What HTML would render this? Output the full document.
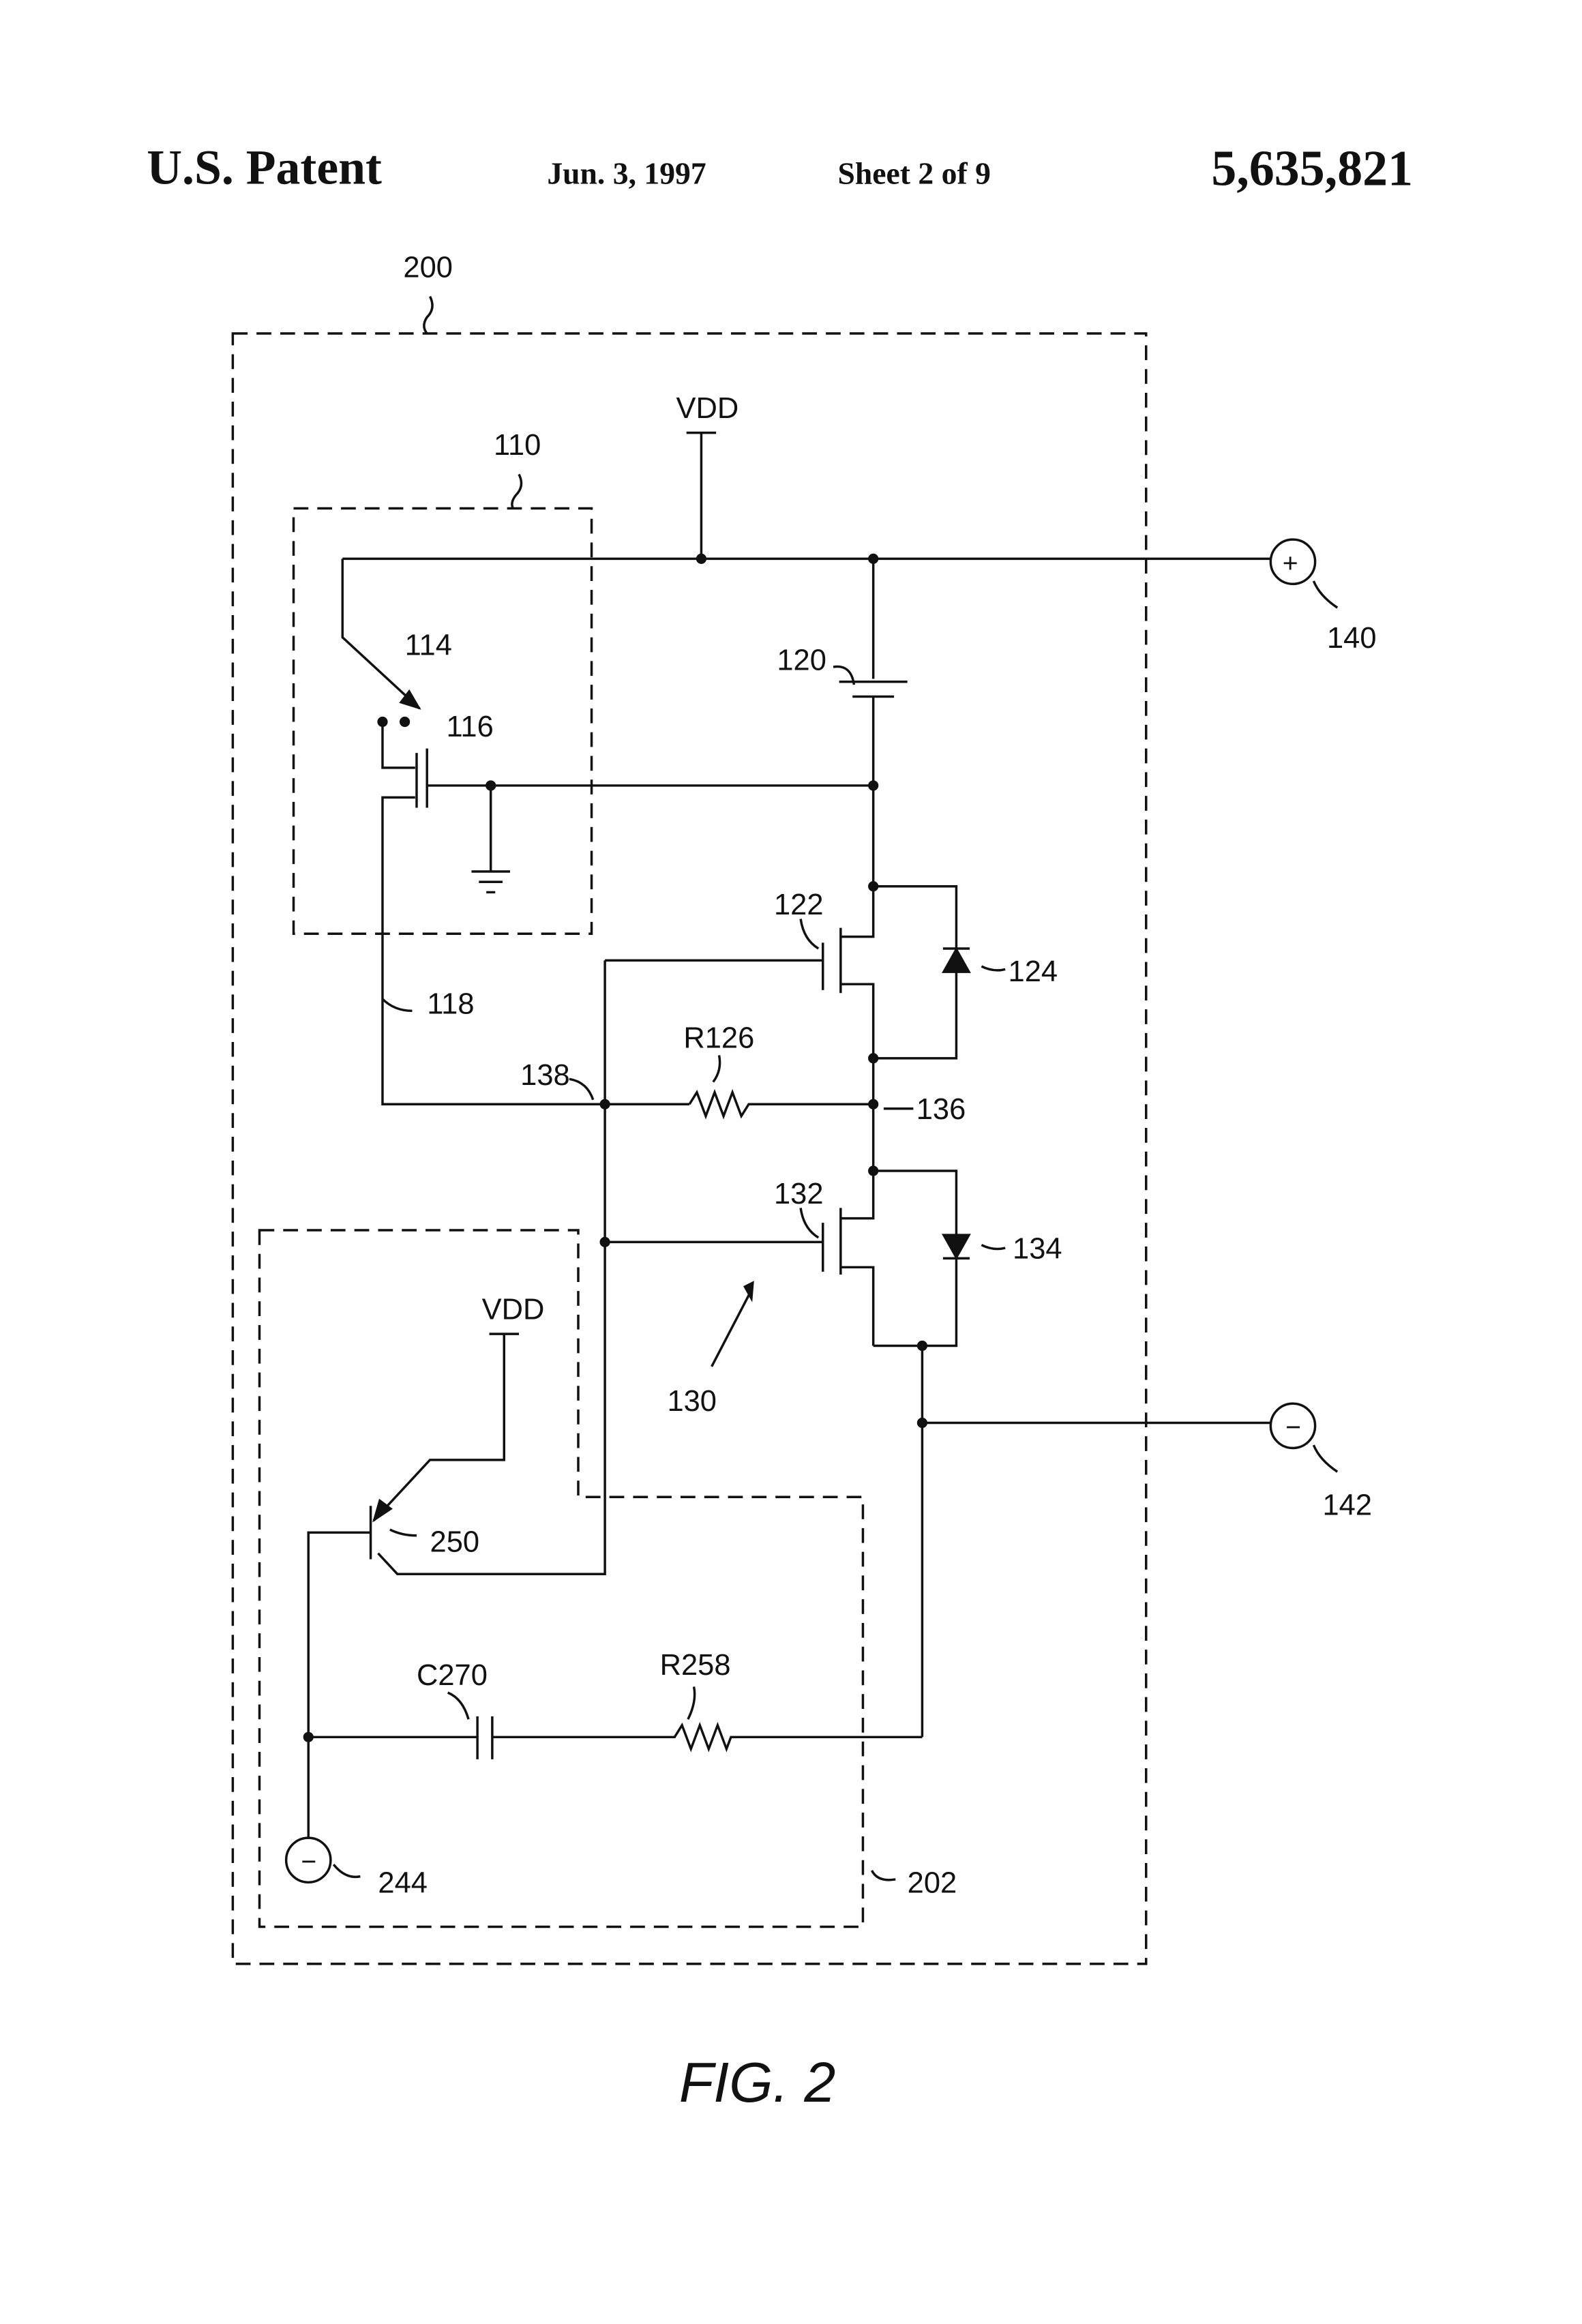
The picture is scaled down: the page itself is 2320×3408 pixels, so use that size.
<!DOCTYPE html>
<html><head><meta charset="utf-8"><style>
html,body{margin:0;padding:0;background:#fff;}
svg{display:block;}
.l{font-family:"Liberation Sans",sans-serif;font-size:20px;fill:#111;}
</style></head><body>
<svg width="2320" height="3408" viewBox="0 0 1067 1568" preserveAspectRatio="none" xmlns="http://www.w3.org/2000/svg">
<rect width="1080" height="1600" fill="#fff"/>
<g font-family="Liberation Serif,serif" font-weight="bold" fill="#111">
<text x="99" y="124" font-size="33">U.S. Patent</text>
<text x="369" y="124" font-size="21">Jun. 3, 1997</text>
<text x="565" y="124" font-size="21">Sheet 2 of 9</text>
<text x="817" y="125" font-size="34">5,635,821</text>
</g>
<g fill="none" stroke="#111" stroke-width="1.6">
<g stroke-dasharray="10,6">
<rect x="157" y="225" width="616" height="1100"/>
<rect x="198" y="343" width="201" height="287"/>
<path d="M175 830 H390 V1010 H582 V1300 H175 Z"/>
</g>
<path d="M290 200 q4 8 -2 14 q-4 6 0 11"/>
<path d="M350 320 q4 8 -2 14 q-4 5 -2 9"/>
<path d="M562 450 q12 -2 14 12"/>
<path d="M278 682 q-12 0 -20 -8"/>
<path d="M384 728 q12 2 16 14"/>
<path d="M485 712 q2 10 -4 18"/>
<path d="M540 620 q2 14 12 20"/>
<path d="M540 815 q2 14 12 20"/>
<path d="M662 652 q8 4 16 2"/>
<path d="M662 840 q8 4 16 2"/>
<path d="M596 748 h20"/>
<path d="M886 392 q4 10 16 18"/>
<path d="M886 975 q4 10 16 18"/>
<path d="M225 1258 q8 10 18 8"/>
<path d="M588 1262 q4 8 16 6"/>
<path d="M263 1032 q8 4 18 4"/>
<path d="M302 1142 q10 4 14 18"/>
<path d="M468 1138 q2 10 -4 22"/>
<path d="M231 377 H857"/>
<path d="M473 292 V377 M463 292 H483"/>
<path d="M231 377 V430 L283 478"/>
<path d="M258 487 V518 H280"/>
<path d="M281 508 V545 M288 505 V545"/>
<path d="M288 530 H589"/>
<path d="M280 538 H258 V745 H465"/>
<path d="M331 530 V588 M318 588 H344 M323 595 H339 M328 602 H334"/>
<path d="M589 377 V458 M566 460 H612 M575 470 H603 M589 470 V598"/>
<path d="M589 598 H645 V714 H589 M589 598 V632 H567 M567 626 V670"/>
<path d="M555 636 V668 M408 648 H555 M567 664 H589 V745"/>
<path d="M465 745 l5 -8 l6 16 l6 -16 l6 16 l6 -16 l6 16 l5 -8 H589"/>
<path d="M589 745 V790 H645 V908 H589 M589 790 V822 H567 M567 815 V860 M555 825 V858 M408 838 H555 M567 855 H589 V908"/>
<path d="M408 648 V1062 H268 L255 1048"/>
<path d="M480 922 L506 872"/>
<path d="M622 908 V1172 M622 960 H857"/>
<path d="M250 1016 V1052 M208 1240 V1034 H250 M252 1026 L290 985 H340 V900 M330 900 H350"/>
<path d="M208 1172 H322 M322 1158 V1187 M332 1158 V1187 M332 1172 H455 l5 -8 l6 16 l6 -16 l6 16 l6 -16 l6 16 l3 -8 H622"/>
<circle cx="872" cy="379" r="15"/>
<circle cx="872" cy="962" r="15"/>
<circle cx="208" cy="1255" r="15"/>
</g>
<g fill="#111" stroke="#111" stroke-width="1">
<path d="M283 478 l-13 -4 l6 -8 z"/>
<path d="M502 868 l6 -3 l-1 12 z"/>
<path d="M636 656 L654 656 L645 640 Z"/><path d="M636 640 H654" stroke-width="1.6"/>
<path d="M636 833 L654 833 L645 849 Z"/><path d="M636 849 H654" stroke-width="1.6"/>
<path d="M252 1026 l4 -14 l8 6 z"/>
<circle cx="473" cy="377" r="3"/><circle cx="589" cy="377" r="3"/>
<circle cx="258" cy="487" r="3"/><circle cx="273" cy="487" r="3"/>
<circle cx="331" cy="530" r="3"/><circle cx="589" cy="530" r="3"/>
<circle cx="589" cy="598" r="3"/><circle cx="589" cy="714" r="3"/>
<circle cx="589" cy="745" r="3"/><circle cx="408" cy="745" r="3"/>
<circle cx="408" cy="838" r="3"/><circle cx="589" cy="790" r="3"/>
<circle cx="622" cy="908" r="3"/><circle cx="622" cy="960" r="3"/>
<circle cx="208" cy="1172" r="3"/>
</g>
<g class="l">
<text x="272" y="187">200</text>
<text x="333" y="307">110</text>
<text x="456" y="282">VDD</text>
<text x="273" y="442">114</text>
<text x="301" y="497">116</text>
<text x="524" y="452">120</text>
<text x="288" y="684">118</text>
<text x="461" y="707">R126</text>
<text x="351" y="732">138</text>
<text x="618" y="755">136</text>
<text x="522" y="617">122</text>
<text x="680" y="662">124</text>
<text x="522" y="812">132</text>
<text x="683" y="849">134</text>
<text x="450" y="952">130</text>
<text x="895" y="437">140</text>
<text x="892" y="1022">142</text>
<text x="325" y="890">VDD</text>
<text x="290" y="1047">250</text>
<text x="281" y="1137">C270</text>
<text x="445" y="1130">R258</text>
<text x="255" y="1277">244</text>
<text x="612" y="1277">202</text>
<text x="865" y="386" font-size="18">+</text>
<text x="867" y="969" font-size="18">−</text>
<text x="203" y="1262" font-size="18">−</text>
</g>
<text x="458" y="1418" font-family="Liberation Sans,sans-serif" font-style="italic" font-size="38" fill="#111">FIG. 2</text>
</svg>
</body></html>
